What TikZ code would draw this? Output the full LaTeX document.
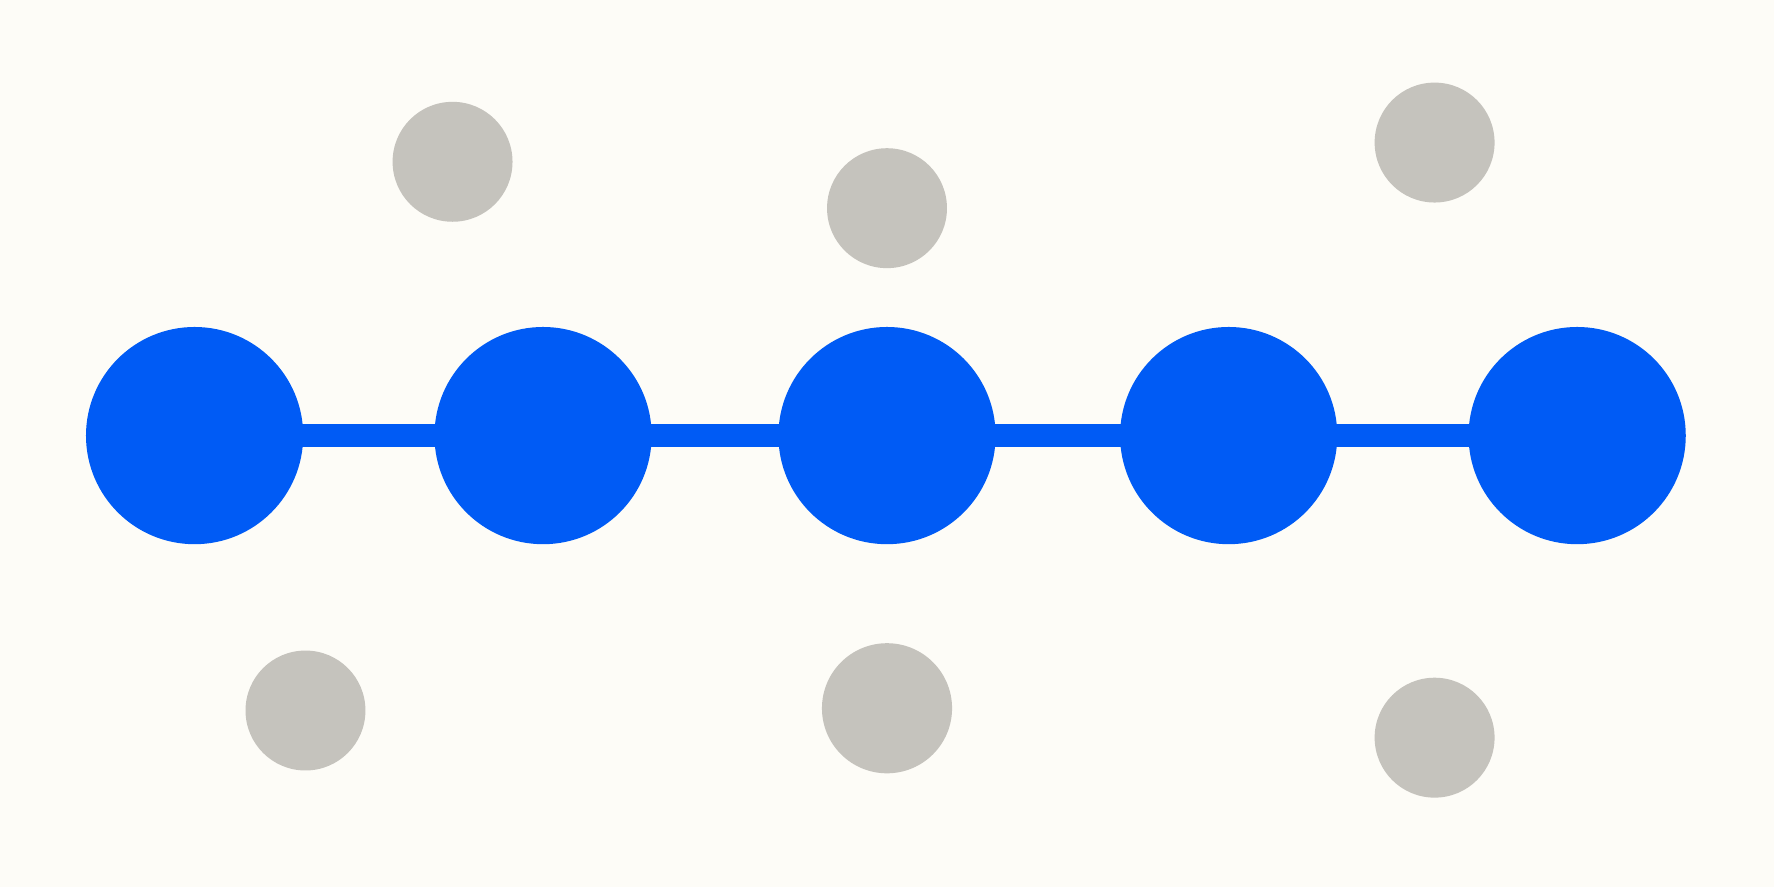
\documentclass[tikz,border=0pt]{standalone}
\usepackage{xcolor}
\usepackage{tikz}

\definecolor{chainblue}{HTML}{005BF5}
\definecolor{dotgray}{HTML}{C5C3BD}
\definecolor{paper}{HTML}{FDFCF7}

\begin{document}
\begin{tikzpicture}[chain/.style={circle, fill=chainblue, minimum size=1.92cm, inner sep=0pt}, dot/.style={circle, fill=dotgray, minimum size=1.06cm, inner sep=0pt}]
							\fill[paper] (0,0) rectangle (15.68,7.84);
							\useasboundingbox (0,0) rectangle (15.68,7.84);
							% blue chain
							\foreach \x [count=\i] in {1.72,4.80,7.84,10.86,13.94}{
								\node[chain] (b\i) at (\x,3.99) {};
							}
							\foreach \i/\j in {1/2,2/3,3/4,4/5}{
								\draw[chainblue, line width=0.21cm, shorten <=-6pt, shorten >=-6pt] (b\i.east) -- (b\j.west);
							}
							% grey dots
							\node[dot] (g1) at (4.00,6.41) {};
							\node[dot] (g2) at (7.84,6.00) {};
							\node[dot] (g3) at (12.68,6.58) {};
							\node[dot] (g4) at (2.70,1.56) {};
							\node[dot, minimum size=1.15cm] (g5) at (7.84,1.58) {};
							\node[dot] (g6) at (12.68,1.32) {};
						\end{tikzpicture}
\end{document}
